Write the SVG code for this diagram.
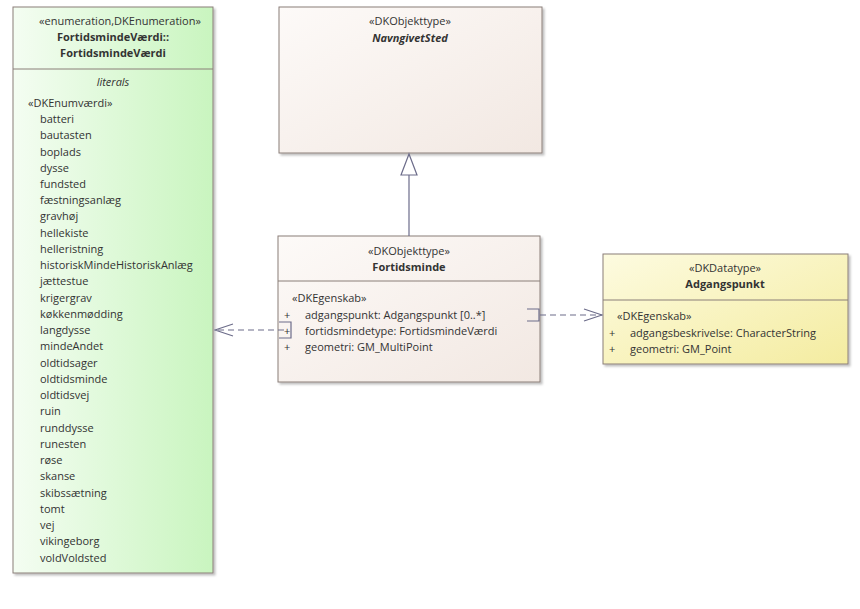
<svg xmlns="http://www.w3.org/2000/svg" width="860" height="609" viewBox="0 0 860 609">
<defs>
<linearGradient id="gg" x1="0" y1="0" x2="1" y2="0"><stop offset="0" stop-color="#f4fdf2"/><stop offset="1" stop-color="#c9f5bf"/></linearGradient>
<linearGradient id="gb" x1="0" y1="0" x2="1" y2="1"><stop offset="0" stop-color="#fdfaf8"/><stop offset="1" stop-color="#f2e8e2"/></linearGradient>
<linearGradient id="gy" x1="0" y1="0" x2="1" y2="1"><stop offset="0" stop-color="#fdfbe0"/><stop offset="1" stop-color="#f4eca0"/></linearGradient>
<filter id="sh"><feDropShadow dx="2" dy="2" stdDeviation="1.2" flood-color="#000" flood-opacity="0.25"/></filter>
<marker id="open" viewBox="0 0 20 14" refX="19" refY="7" markerWidth="20" markerHeight="14" markerUnits="userSpaceOnUse" orient="auto"><path d="M1,1 L19,7 L1,13" fill="none" stroke="#6c6c8a" stroke-width="1.2"/></marker>
</defs>
<style>
text{font-family:"Open Sans","DejaVu Sans",sans-serif;font-size:11px;fill:#333}
.b{font-weight:bold}.i{font-style:italic}.m{text-anchor:middle}
.box{stroke:#8a7e78;stroke-width:1;filter:url(#sh)}
.ln{stroke:#8a7e78;stroke-width:1}
.c{stroke:#6c6c8a;stroke-width:1.2;fill:none}
</style>
<rect width="860" height="609" fill="#fff"/>
<g id="enum">
<rect class="box" x="13" y="7" width="200" height="566" fill="url(#gg)"/>
<line class="ln" x1="13" y1="69" x2="213" y2="69"/>
<text class="m" x="120" y="25">«enumeration,DKEnumeration»</text>
<text class="m b" x="113" y="41">FortidsmindeVærdi::</text>
<text class="m b" x="113" y="57">FortidsmindeVærdi</text>
<text class="m i" x="113" y="86">literals</text>
<text x="28" y="107">«DKEnumværdi»</text>
<text x="40" y="123">batteri</text><text x="40" y="139">bautasten</text><text x="40" y="156">boplads</text><text x="40" y="172">dysse</text><text x="40" y="188">fundsted</text><text x="40" y="204">fæstningsanlæg</text><text x="40" y="220">gravhøj</text><text x="40" y="237">hellekiste</text><text x="40" y="253">helleristning</text><text x="40" y="269">historiskMindeHistoriskAnlæg</text><text x="40" y="285">jættestue</text><text x="40" y="302">krigergrav</text><text x="40" y="318">køkkenmødding</text><text x="40" y="334">langdysse</text><text x="40" y="350">mindeAndet</text><text x="40" y="367">oldtidsager</text><text x="40" y="383">oldtidsminde</text><text x="40" y="399">oldtidsvej</text><text x="40" y="415">ruin</text><text x="40" y="432">runddysse</text><text x="40" y="448">runesten</text><text x="40" y="464">røse</text><text x="40" y="480">skanse</text><text x="40" y="497">skibssætning</text><text x="40" y="513">tomt</text><text x="40" y="529">vej</text><text x="40" y="545">vikingeborg</text><text x="40" y="562">voldVoldsted</text>
</g>
<g id="navngivetsted">
<rect class="box" x="279" y="7" width="263" height="146" fill="url(#gb)"/>
<text class="m" x="410" y="25">«DKObjekttype»</text>
<text class="m b i" x="410" y="42">NavngivetSted</text>
</g>
<g id="fortidsminde">
<rect class="box" x="278" y="236" width="262" height="146" fill="url(#gb)"/>
<line class="ln" x1="278" y1="281" x2="540" y2="281"/>
<text class="m" x="409" y="255">«DKObjekttype»</text>
<text class="m b" x="409" y="271">Fortidsminde</text>
<text x="292" y="302">«DKEgenskab»</text>
<text x="284" y="319">+</text><text x="305" y="319">adgangspunkt: Adgangspunkt [0..*]</text>
<text x="284" y="335">+</text><text x="305" y="335">fortidsmindetype: FortidsmindeVærdi</text>
<text x="284" y="351">+</text><text x="305" y="351">geometri: GM_MultiPoint</text>
</g>
<g id="adgangspunkt">
<rect class="box" x="603" y="254" width="245" height="110" fill="url(#gy)"/>
<line class="ln" x1="603" y1="300" x2="848" y2="300"/>
<text class="m" x="725" y="272">«DKDatatype»</text>
<text class="m b" x="725" y="288">Adgangspunkt</text>
<text x="617" y="320">«DKEgenskab»</text>
<text x="609" y="337">+</text><text x="630" y="337">adgangsbeskrivelse: CharacterString</text>
<text x="609" y="353">+</text><text x="630" y="353">geometri: GM_Point</text>
</g>
<g id="connectors">
<line class="c" x1="409" y1="236" x2="409" y2="175"/>
<path class="c" d="M409,154 L401,175 L417,175 Z" fill="#fff"/>
<line class="c" x1="284" y1="330" x2="215" y2="330" stroke-dasharray="6,4" marker-end="url(#open)"/>
<path class="c" d="M279,322 H291 V338 H279" stroke-width="1"/>
<line class="c" x1="540" y1="315" x2="602" y2="315" stroke-dasharray="6,4" marker-end="url(#open)"/>
<path class="c" d="M527,309 H539 V321 H527" stroke-width="1"/>
</g>
</svg>
